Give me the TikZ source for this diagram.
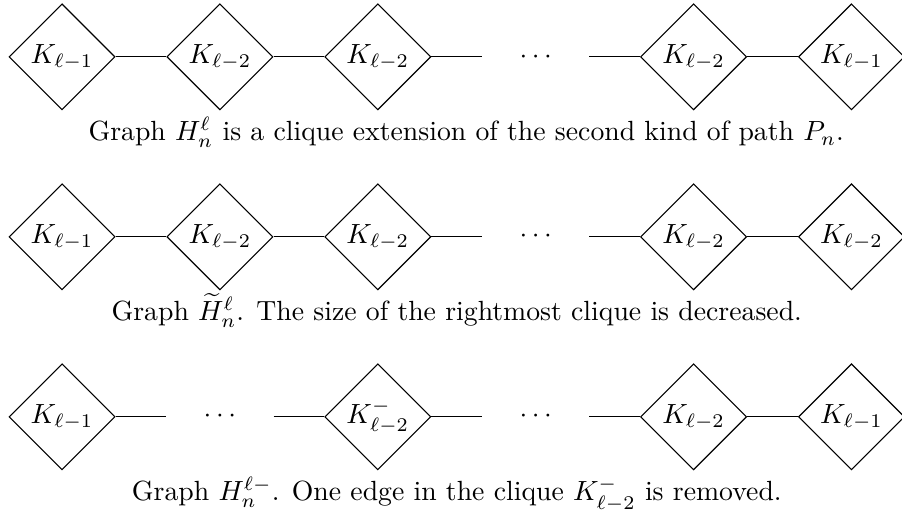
\documentclass[tikz,border=0pt]{standalone}
\usetikzlibrary{shapes.geometric}
\begin{document}
\begin{tikzpicture}[x=1cm,y=1cm,
  clique/.style={draw, diamond, aspect=1, minimum size=1.344cm, inner sep=0pt},
  gap/.style={minimum width=1.344cm, inner sep=0pt},
  caption/.style={anchor=base}]
  % 画布 902x515 px，右侧最后一个团被裁掉一点
  \useasboundingbox (-0.786,0.72) rectangle (10.64,-5.80);

  % ── 第一行：H_n^l ──
  \foreach \k/\lab in {0/{K_{\ell-1}}, 1/{K_{\ell-2}}, 2/{K_{\ell-2}}, 4/{K_{\ell-2}}, 5/{K_{\ell-1}}}{
    \node[clique] (a\k) at (2*\k,0) {$\lab$}; }
  \node[gap] (a3) at (6,0) {$\cdots$};
  \foreach \i/\j in {0/1,1/2,2/3,3/4,4/5}{
    \draw (a\i) -- (a\j); }
  \node[caption] (capa) at (5.12,-1.065)
    {Graph $H_n^\ell$ is a clique extension of the second kind of path $P_n$.};

  % ── 第二行：最右边的团变小 ──
  \foreach \k/\lab in {0/{K_{\ell-1}}, 1/{K_{\ell-2}}, 2/{K_{\ell-2}}, 4/{K_{\ell-2}}, 5/{K_{\ell-2}}}{
    \node[clique] (b\k) at (2*\k,-2.28) {$\lab$}; }
  \node[gap] (b3) at (6,-2.28) {$\cdots$};
  \foreach \i/\j in {0/1,1/2,2/3,3/4,4/5}{
    \draw (b\i) -- (b\j); }
  \node[caption] (capb) at (5,-2.28-1.065)
    {Graph $\widetilde{H}_n^\ell$. The size of the rightmost clique is decreased.};

  % ── 第三行：中间的团少一条边 ──
  \foreach \k/\lab in {0/{K_{\ell-1}}, 2/{K_{\ell-2}^-}, 4/{K_{\ell-2}}, 5/{K_{\ell-1}}}{
    \node[clique] (c\k) at (2*\k,-4.56) {$\lab$}; }
  \foreach \k in {1,3}{
    \node[gap] (c\k) at (2*\k,-4.56) {$\cdots$}; }
  \foreach \i/\j in {0/1,1/2,2/3,3/4,4/5}{
    \draw (c\i) -- (c\j); }
  \node[caption] (capc) at (5,-4.56-1.065)
    {Graph $H_n^{\ell-}$. One edge in the clique $K_{\ell-2}^-$ is removed.};
\end{tikzpicture}
\end{document}
